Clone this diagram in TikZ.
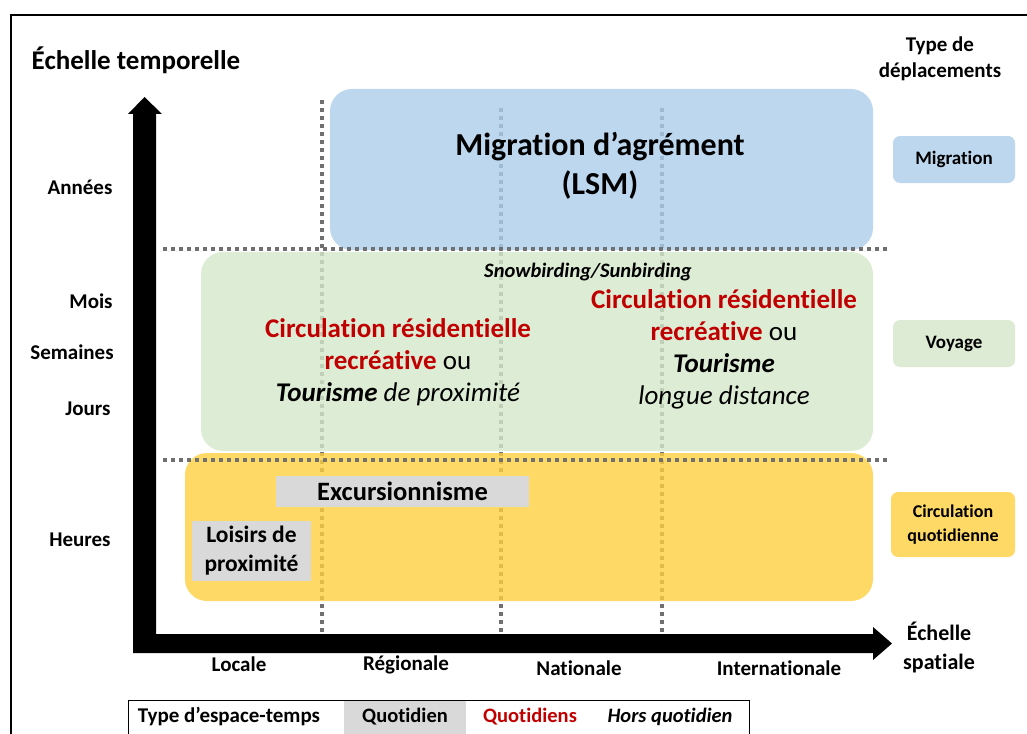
\documentclass[tikz,border=0pt]{standalone}
\usepackage{fontspec}
\setmainfont[Ligatures=CommonOff]{Carlito}
\definecolor{boxblue}{RGB}{173,205,234}
\definecolor{boxgreen}{RGB}{213,231,202}
\definecolor{boxyellow}{RGB}{255,207,64}
\definecolor{legblue}{RGB}{189,215,238}
\definecolor{leggreen}{RGB}{221,235,213}
\definecolor{legyellow}{RGB}{255,217,102}
\definecolor{cellgray}{RGB}{217,217,217}
\definecolor{dotgray}{RGB}{112,112,112}
\definecolor{redtxt}{RGB}{192,0,0}
\newcommand\fsz[2]{\fontsize{#1}{#2}\selectfont}
\tikzset{
  dotline/.style={draw=dotgray, line width=4pt, dash pattern=on 4pt off 4pt},
  zone/.style={rounded corners=22pt, fill opacity=0.8, inner sep=0pt, text opacity=1},
  typebox/.style={rounded corners=7pt, inner sep=0pt, align=center, font=\fsz{19}{24}\bfseries},
  graybox/.style={fill=cellgray, inner sep=0pt, align=center},
  axlabel/.style={font=\fsz{21}{25}\bfseries, inner sep=0pt},
  lbl/.style={inner sep=0pt, align=center},
}
\begin{document}
\begin{tikzpicture}[x=1pt,y=-1pt]
\useasboundingbox (0,0) rectangle (1027,733);
\clip (0,0) rectangle (1027,733);
% outer frame
\draw[line width=2pt] (11,15) rectangle (1040,760);
% vertical dotted lines (behind zones)
\coordinate (v1t) at (322,100); \coordinate (v1b) at (322,632);
\coordinate (v2t) at (501,108); \coordinate (v2b) at (501,632);
\coordinate (v3t) at (662,108); \coordinate (v3b) at (662,632);
\draw[dotline] (v1t) -- (v1b);
\draw[dotline] (v2t) -- (v2b);
\draw[dotline] (v3t) -- (v3b);
% zones
\node[zone, fill=boxblue, minimum width=543pt, minimum height=161pt] (blue) at (601.5,169.5) {};
\node[zone, fill=boxgreen, minimum width=672pt, minimum height=199pt] (green) at (537,351.5) {};
\node[zone, fill=boxyellow, minimum width=688pt, minimum height=148pt] (yellow) at (529,527) {};
% horizontal dotted lines
\coordinate (h1l) at (163,249); \coordinate (h1r) at (888,249);
\coordinate (h2l) at (163,460); \coordinate (h2r) at (888,460);
\draw[dotline] (h1l) -- (h1r);
\draw[dotline] (h2l) -- (h2r);
% axes
\fill[black] (133,653) -- (873,653) -- (873,660) -- (892,643.5) -- (873,627) -- (873,634)
  -- (156,634) -- (156,114) -- (162,114) -- (144.5,97) -- (128,114) -- (133,114) -- cycle;
% titles
\node[lbl, font=\fsz{27}{30}\bfseries] (ytitle) at (136,60) {Échelle temporelle};
\node[lbl, font=\fsz{21}{26}\bfseries] (typetitle) at (940,59) {Type de\\déplacements};
\node[lbl, font=\fsz{22}{29}\bfseries] (xtitle) at (939,647) {Échelle\\spatiale};
% y labels
\node[axlabel] (annees) at (80,187) {Années};
\node[axlabel] (mois) at (91,301) {Mois};
\node[axlabel] (semaines) at (72,352) {Semaines};
\node[axlabel] (jours) at (88,409) {Jours};
\node[axlabel] (heures) at (80,540) {Heures};
% x labels
\node[axlabel] (locale) at (239,664) {Locale};
\node[axlabel] (regionale) at (406,665) {Régionale};
\node[axlabel] (nationale) at (579,668) {Nationale};
\node[axlabel] (internationale) at (779,668) {Internationale};
% type boxes
\node[typebox, fill=legblue, minimum width=122pt, minimum height=47pt] (tmig) at (954,159.5) {Migration};
\node[typebox, fill=leggreen, minimum width=122pt, minimum height=47pt] (tvoy) at (954,343.5) {Voyage};
\node[typebox, fill=legyellow, minimum width=124pt, minimum height=65pt, font=\fsz{18}{24}\bfseries] (tcirc) at (953,524.5) {Circulation\\quotidienne};
% zone texts
\node[lbl, font=\fsz{32}{39}\bfseries] (lsm) at (600,166) {Migration d’agrément\\(LSM)};
\node[lbl, font=\fsz{20.5}{22}\bfseries\itshape] (snow) at (588,272) {Snowbirding/Sunbirding};
\node[lbl, font=\fsz{27}{32}] (crrl) at (398,362) {{\color{redtxt}\bfseries Circulation résidentielle}\\{\color{redtxt}\bfseries recréative} ou\\{\bfseries\itshape Tourisme} {\itshape de proximité}};
\node[lbl, font=\fsz{27}{32}] (crrr) at (724,349) {{\color{redtxt}\bfseries Circulation résidentielle}\\{\color{redtxt}\bfseries recréative} ou\\{\bfseries\itshape Tourisme}\\{\itshape longue distance}};
% gray boxes
\node[graybox, minimum width=253pt, minimum height=31pt, font=\fsz{26.5}{30}\bfseries] (excu) at (402.5,491.5) {Excursionnisme};
\node[graybox, minimum width=119pt, minimum height=60pt, font=\fsz{23.5}{29}\bfseries] (loisirs) at (251.5,551) {Loisirs de\\proximité};
% legend
\coordinate (legtl) at (128,700); \coordinate (legbr) at (749,745);
\fill[cellgray] (344,700) rectangle (466,745);
\draw[line width=1pt] (legtl) rectangle (legbr);
\node[lbl, font=\fsz{21}{24}\bfseries] (legtype) at (229,717) {Type d’espace-temps};
\node[lbl, font=\fsz{20.5}{24}\bfseries] (legq) at (405,717) {Quotidien};
\node[lbl, font=\fsz{20.5}{24}\bfseries, text=redtxt] (legqs) at (530,717) {Quotidiens};
\node[lbl, font=\fsz{20.5}{24}\bfseries\itshape] (leghq) at (670,717) {Hors quotidien};
\end{tikzpicture}
\end{document}
